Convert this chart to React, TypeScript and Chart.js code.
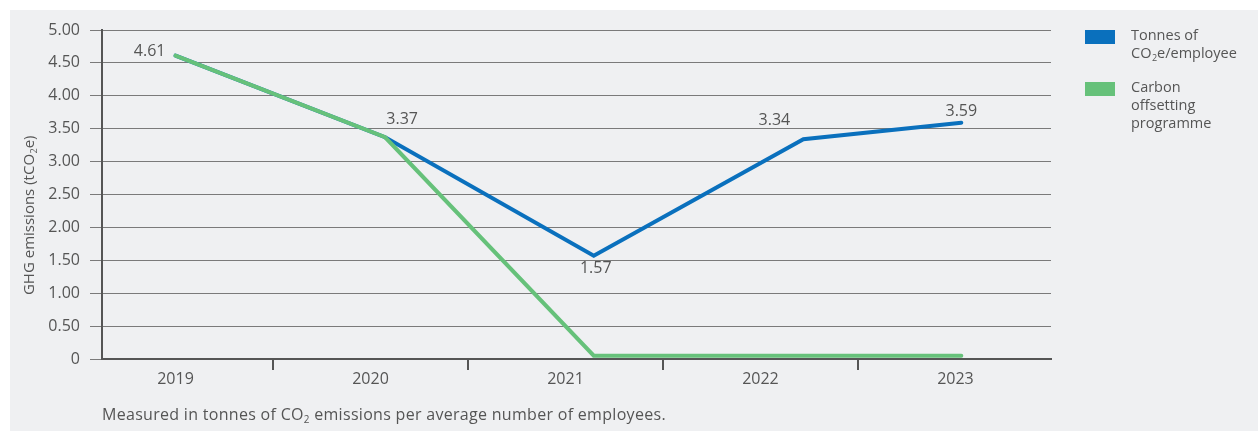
import React, { useEffect, useRef } from 'react';
import { Chart, registerables } from 'chart.js';

Chart.register(...registerables);

// ---------- data ----------
const years = ['2019', '2020', '2021', '2022', '2023'];
// where each year's point sits along the time axis
const yearPositions = [2019, 2020.075, 2021.145, 2022.22, 2023.03];
const tonnesPerEmployee = [4.61, 3.37, 1.57, 3.34, 3.59];
const carbonOffsetting = [4.61, 3.37, 0.05, 0.05, 0.05];
const yTickStep = 0.5;
const yMax = 5;
const seriesLabels = ['Tonnes of CO₂e/employee', 'Carbon offsetting programme'];
const legendLines = [
  ['Tonnes of', 'CO₂e/employee'],
  ['Carbon', 'offsetting', 'programme'],
];
const yTitle = 'GHG emissions (tCO₂e)';
const footnoteBefore = 'Measured in tonnes of CO';
const footnoteAfter = ' emissions per average number of employees.';

// ---------- style ----------
const FONT = '"Open Sans", "Noto Sans", sans-serif';
const TEXT = '#555555';
const BLUE = '#0a70bd';
const GREEN = '#66c17a';
const BG = '#eff0f2';
// label placement relative to each point: [dx, dy, align]
const labelPlacement: [number, number, CanvasTextAlign][] = [
  [-10, -4, 'right'],
  [17, -18, 'center'],
  [2, 13, 'center'],
  [-29, -19, 'center'],
  [0, -11, 'center'],
];

function drawRich(
  ctx: CanvasRenderingContext2D,
  text: string,
  x: number,
  y: number,
  size: number,
  align: 'left' | 'center' | 'right'
) {
  const parts = text.split('₂');
  const main = `${size}px ${FONT}`;
  const sub = `${Math.round(size * 0.62)}px ${FONT}`;
  let total = 0;
  parts.forEach((p, i) => {
    ctx.font = main;
    total += ctx.measureText(p).width;
    if (i < parts.length - 1) {
      ctx.font = sub;
      total += ctx.measureText('2').width;
    }
  });
  let cx = align === 'right' ? x - total : align === 'center' ? x - total / 2 : x;
  ctx.textAlign = 'left';
  ctx.textBaseline = 'middle';
  parts.forEach((p, i) => {
    ctx.font = main;
    ctx.fillText(p, cx, y);
    cx += ctx.measureText(p).width;
    if (i < parts.length - 1) {
      ctx.font = sub;
      ctx.fillText('2', cx + 0.5, y + size * 0.32);
      cx += ctx.measureText('2').width + 0.5;
    }
  });
}

const overlayPlugin = {
  id: 'overlay',
  afterDraw(chart: any) {
    const ctx: CanvasRenderingContext2D = chart.ctx;
    ctx.save();
    ctx.fillStyle = TEXT;

    // data labels on the main series
    const meta = chart.getDatasetMeta(0);
    meta.data.forEach((pt: any, i: number) => {
      const [dx, dy, align] = labelPlacement[i];
      ctx.font = `16px ${FONT}`;
      ctx.textAlign = align;
      ctx.textBaseline = 'middle';
      ctx.fillText(tonnesPerEmployee[i].toFixed(2), pt.x + dx, pt.y + dy);
    });

    // rotated y title
    ctx.save();
    ctx.translate(19.5, 205.5);
    ctx.rotate(-Math.PI / 2);
    drawRich(ctx, yTitle, 0, 0, 15, 'center');
    ctx.restore();

    // legend
    const colors = [BLUE, GREEN];
    const boxX = chart.chartArea.right + 34;
    const textX = boxX + 46;
    let top = chart.chartArea.top;
    legendLines.forEach((lines, di) => {
      ctx.fillStyle = colors[di];
      ctx.fillRect(boxX, top, 30, 14);
      ctx.fillStyle = TEXT;
      lines.forEach((ln, li) => {
        drawRich(ctx, ln, textX, top + 5.5 + li * 18, 14.5, 'left');
      });
      top += 52;
    });
    ctx.restore();
  },
};

const xTickValues: number[] = [];
years.forEach((y, i) => {
  xTickValues.push(Number(y));
  if (i < years.length - 1) xTickValues.push(Number(y) + 0.5);
});

export default function App() {
  const ref = useRef<HTMLCanvasElement | null>(null);

  useEffect(() => {
    if (!ref.current) return;
    const chart = new Chart(ref.current, {
      type: 'line',
      data: {
        datasets: [
          {
            label: seriesLabels[0],
            data: yearPositions.map((x, i) => ({ x, y: tonnesPerEmployee[i] })),
            borderColor: BLUE,
            backgroundColor: BLUE,
            borderWidth: 4,
            pointRadius: 0,
            tension: 0,
            order: 1,
            borderCapStyle: 'round',
          },
          {
            label: seriesLabels[1],
            data: yearPositions.map((x, i) => ({ x, y: carbonOffsetting[i] })),
            borderColor: GREEN,
            backgroundColor: GREEN,
            borderWidth: 4,
            pointRadius: 0,
            tension: 0,
            order: 0,
            borderCapStyle: 'round',
          },
        ],
      },
      options: {
        animation: false,
        responsive: false,
        devicePixelRatio: 1,
        layout: { padding: { left: 0, top: 20, right: 207, bottom: 0 } },
        plugins: {
          legend: { display: false },
          tooltip: { enabled: false },
        },
        scales: {
          x: {
            type: 'linear',
            min: 2018.623,
            max: 2023.49,
            afterBuildTicks: (s: any) => {
              s.ticks = xTickValues.map((v) => ({ value: v }));
            },
            afterFit: (s: any) => {
              s.height = 72;
              s.paddingLeft = 0;
              s.paddingRight = 0;
            },
            grid: {
              drawOnChartArea: false,
              drawTicks: true,
              tickLength: 11,
              lineWidth: 2,
              color: (c: any) =>
                c.tick && c.tick.value % 1 !== 0 ? '#555555' : 'rgba(0,0,0,0)',
            },
            border: { display: true, color: '#555555', width: 2 },
            ticks: {
              padding: 0,
              autoSkip: false,
              maxRotation: 0,
              color: TEXT,
              font: { family: FONT, size: 16 },
              callback: (v: any) => {
                const idx = years.findIndex((y) => Number(y) === Number(v));
                return idx >= 0 ? years[idx] : '';
              },
            },
          },
          y: {
            min: 0,
            max: yMax,
            afterBuildTicks: (s: any) => {
              const t = [];
              for (let v = 0; v <= yMax + 1e-9; v += yTickStep) t.push({ value: Math.round(v * 100) / 100 });
              s.ticks = t;
            },
            afterFit: (s: any) => {
              s.width = 92;
              s.paddingTop = 0;
              s.paddingBottom = 0;
            },
            grid: {
              color: '#7a7a7a',
              lineWidth: 1,
              tickLength: 12,
              drawTicks: true,
            },
            border: { display: true, color: '#555555', width: 2 },
            ticks: {
              padding: 10,
              color: TEXT,
              font: { family: FONT, size: 16 },
              callback: (v: any) => (Number(v) === 0 ? '0' : Number(v).toFixed(2)),
            },
          },
        },
      },
      plugins: [overlayPlugin],
    } as any);
    return () => chart.destroy();
  }, []);

  return (
    <div
      style={{
        position: 'absolute',
        left: 10,
        top: 10,
        width: 1248,
        height: 421,
        background: BG,
      }}
    >
      <canvas ref={ref} width={1248} height={421} style={{ display: 'block', width: 1248, height: 421 }} />
      <div
        style={{
          position: 'absolute',
          left: 92,
          top: 393,
          fontFamily: FONT,
          fontSize: 16,
          letterSpacing: '0.3px',
          lineHeight: '22px',
          color: TEXT,
          whiteSpace: 'nowrap',
        }}
      >
        {footnoteBefore}
        <sub style={{ fontSize: '0.62em', verticalAlign: '-0.3em', lineHeight: 0 }}>2</sub>
        {footnoteAfter}
      </div>
    </div>
  );
}
